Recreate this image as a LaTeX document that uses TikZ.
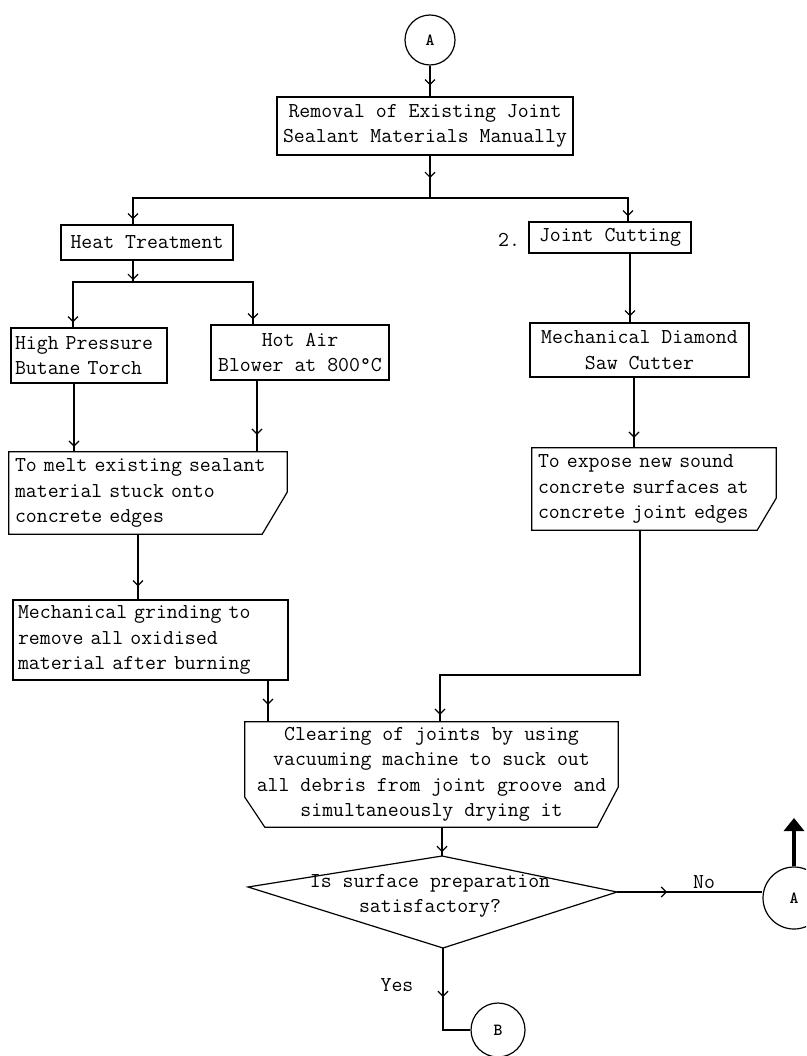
\documentclass[tikz,border=0pt]{standalone}
\usetikzlibrary{arrows.meta,decorations.markings,calc}
\begin{document}
\begin{tikzpicture}[x=1pt,y=-1pt,
  txt/.style={font=\ttfamily\fontsize{21.2pt}{25.5pt}\selectfont, inner sep=0pt},
  box/.style={txt, draw, line width=1.2pt, align=center},
  lbox/.style={txt, draw, line width=1.2pt, align=left, inner xsep=5pt},
  plain/.style={txt, align=left, inner xsep=6pt},
  circ/.style={draw, circle, line width=1.2pt, inner sep=0pt, font=\ttfamily\bfseries\fontsize{17pt}{20pt}\selectfont},
  conn/.style={line width=1.2pt},
  mk/.style={postaction={decorate}, decoration={markings, mark=at position #1 with {\arrow{Straight Barb[length=5pt,width=10pt]}}}},
  bigarrow/.style={line width=4.5pt, -{Triangle[length=13pt,width=20pt]}}
]
\useasboundingbox (0,0) rectangle (806,1056);
\clip (0,0) rectangle (806,1056);

% nodes
\node[circ, minimum size=50pt] (a1) at (430,40) {A};
\node[box, minimum width=296pt, minimum height=58pt] (b1) at (425,126) {Removal of Existing Joint\\Sealant Materials Manually};
\node[box, minimum width=172pt, minimum height=35pt] (ht) at (147,242.5) {Heat Treatment};
\node[box, minimum width=162pt, minimum height=31pt] (jc) at (610,237.5) {Joint Cutting};
\node[txt] (two) at (509,240) {2.};
\node[lbox, text width=148pt, inner xsep=4pt, minimum height=55pt] (hp) at (89,355.5) {High Pressure\\Butane Torch};
\node[box, minimum width=178pt, minimum height=55pt] (ha) at (300,352.5) {Hot Air\\Blower at 800°C};
\node[box, minimum width=219pt, minimum height=54pt] (sc) at (639.5,350) {Mechanical Diamond\\Saw Cutter};
\node[plain, text width=266pt, minimum height=82pt] (d1) at (148,493) {To melt existing sealant\\material stuck onto\\concrete edges};
\node[plain, text width=232pt, minimum height=82pt] (d2) at (654,489) {To expose new sound\\concrete surfaces at\\concrete joint edges};
\node[lbox, text width=265pt, minimum height=80pt] (gr) at (150.5,640) {Mechanical grinding to\\remove all oxidised\\material after burning};
\node[txt, align=center, minimum width=373pt, minimum height=105pt] (cl) at (431.5,774.5) {Clearing of joints by using\\vacuuming machine to suck out\\all debris from joint groove and\\simultaneously drying it};
\node[txt, align=center] (dq) at (430,896) {Is surface preparation\\satisfactory?};
\node[circ, minimum size=62pt] (a2) at (794,898) {A};
\node[circ, minimum size=54pt] (b) at (498,1030) {B};
\node[txt] (no) at (704,882) {No};
\node[txt] (yes) at (397,985) {Yes};

% special shapes
\draw[conn] (d1.north west) -- (d1.north east) -- ([yshift=42pt]d1.south east) -- ([xshift=-25pt]d1.south east) -- (d1.south west) -- cycle;
\draw[conn] (d2.north west) -- (d2.north east) -- ([yshift=32pt]d2.south east) -- ([xshift=-19pt]d2.south east) -- (d2.south west) -- cycle;
\draw[conn] (cl.north west) -- (cl.north east) -- ([yshift=40pt]cl.south east) -- ([xshift=-21pt]cl.south east) -- ([xshift=20pt]cl.south west) -- ([yshift=30pt]cl.south west) -- cycle;
\coordinate (dt) at (442,856);
\coordinate (dr) at (617,892);
\coordinate (db) at (443,948);
\coordinate (dl) at (248,887);
\draw[conn] (dt) -- (dr) -- (db) -- (dl) -- cycle;

% connectors
\coordinate (j1) at (430,198);
\coordinate (j2) at (133,282);
\coordinate (j3) at (440,675);
\coordinate (up) at (794,818);
\draw[conn, mk=-11pt] (a1.south) -- (a1.south |- b1.north);
\draw[conn, mk=-20pt] (b1.south -| j1) -- (j1);
\draw[conn, mk=-5pt] (j1) -| ([xshift=-14pt]ht.north);
\draw[conn, mk=-5pt] (j1) -| ([xshift=18pt]jc.north);
\draw[conn, mk=-2pt] (ht.south -| j2) -- (j2);
\draw[conn, mk=-5pt] (j2) -| ([xshift=-16pt]hp.north);
\draw[conn, mk=-5pt] (j2) -| ([xshift=-47pt]ha.north);
\draw[conn, mk=-5pt] ([xshift=-15pt]hp.south) -- ([xshift=-15pt]hp.south |- d1.north);
\draw[conn, mk=-17pt] ([xshift=-43pt]ha.south) -- ([xshift=-43pt]ha.south |- d1.north);
\draw[conn, mk=-13pt] ([xshift=-10pt]d1.south) -- ([xshift=-10pt]d1.south |- gr.north);
\draw[conn, mk=-17pt] ([xshift=117.5pt]gr.south) -- ([xshift=117.5pt]gr.south |- cl.north);
\draw[conn, mk=-6pt] ([xshift=20pt]jc.south) -- ([xshift=20pt]jc.south |- sc.north);
\draw[conn, mk=-10pt] ([xshift=-5.5pt]sc.south) -- ([xshift=-5.5pt]sc.south |- d2.north);
\draw[conn, mk=-7pt] ([xshift=-14pt]d2.south) |- (j3) -- (j3 |- cl.north);
\draw[conn, mk=-4pt] ([xshift=10.5pt]cl.south) -- (dt);
\draw[conn, mk=50pt] (dr) -- (a2.west |- dr);
\draw[conn, mk=49pt] (db) |- (b.west);
\draw[bigarrow] (a2.north) -- (up);
\end{tikzpicture}
\end{document}
